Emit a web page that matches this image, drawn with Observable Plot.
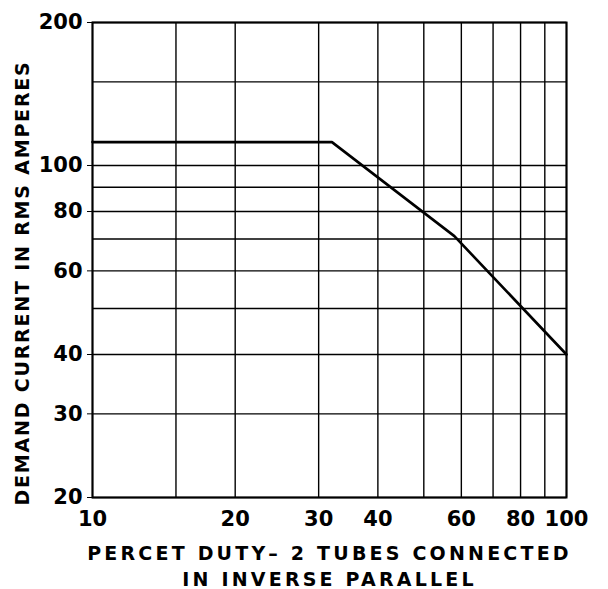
<!DOCTYPE html>
<html>
<head>
<meta charset="utf-8">
<script src="https://cdn.jsdelivr.net/npm/d3@7"></script>
<script src="https://cdn.jsdelivr.net/npm/@observablehq/plot@0.6"></script>
<style>
  html, body { margin: 0; padding: 0; background: #fff; }
  .lblx text { letter-spacing: 3.2px; }
  .lbly text { letter-spacing: 1.8px; }
</style>
</head>
<body>
<div id="chart"></div>
<script>
const xGrid = [10, 15, 20, 30, 40, 50, 60, 70, 80, 90, 100];
const yGrid = [20, 30, 40, 50, 60, 70, 80, 90, 100, 150, 200];
const xTicks = [10, 20, 30, 40, 60, 80, 100];
const yTicks = [20, 30, 40, 60, 80, 100, 200];
const duty = [10, 32, 58, 100];
const current = [112, 112, 71, 40];
const xLabel = "PERCET DUTY\u2013 2 TUBES CONNECTED\nIN INVERSE PARALLEL";
const yLabel = "DEMAND CURRENT IN RMS AMPERES";

const curve = duty.map((d, i) => ({duty: d, current: current[i]}));

const plot = Plot.plot({
  width: 608,
  height: 589,
  marginLeft: 92,
  marginRight: 42,
  marginTop: 22,
  marginBottom: 92,
  style: {fontFamily: "DejaVu Sans", fontWeight: "bold", color: "#000", background: "#fff"},
  x: {type: "log", domain: [10, 100]},
  y: {type: "log", domain: [20, 200]},
  marks: [
    Plot.ruleX(xGrid, {x: d => d, stroke: "#000", strokeWidth: 1.4}),
    Plot.ruleY(yGrid, {y: d => d, stroke: "#000", strokeWidth: 1.4}),
    Plot.frame({stroke: "#000", strokeWidth: 2}),
    Plot.axisX({ticks: xTicks, tickFormat: d => String(d), tickSize: 0, tickPadding: 14,
      fontSize: 21, fontWeight: "bold", label: null}),
    Plot.axisY({ticks: yTicks, tickFormat: d => String(d), tickSize: 5, tickPadding: 5,
      fontSize: 21, fontWeight: "bold", label: null}),
    Plot.line(curve, {x: "duty", y: "current", stroke: "#000", strokeWidth: 2.6}),
    Plot.text([xLabel], {text: d => d, frameAnchor: "bottom", dy: 44, fontSize: 19,
      fontWeight: "bold", lineHeight: 1.37, lineAnchor: "top", textAnchor: "middle", className: "lblx"}),
    Plot.text([yLabel], {text: d => d, frameAnchor: "left", dx: -70, dy: 23, rotate: -90,
      fontSize: 19, fontWeight: "bold", textAnchor: "middle", className: "lbly"})
  ]
});
document.getElementById("chart").appendChild(plot);
</script>
</body>
</html>
